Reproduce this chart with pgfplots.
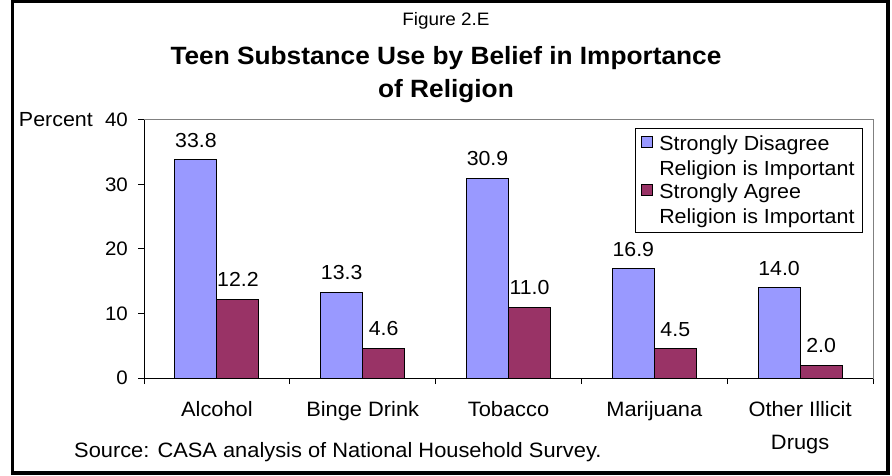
\documentclass[border=0pt]{standalone}
\usepackage{pgfplots}
\pgfplotsset{compat=1.18}
\usepackage{fontspec}
\setmainfont[FakeStretch=1.05]{Liberation Sans}
\definecolor{barblue}{HTML}{9999FF}
\definecolor{barmaroon}{HTML}{993366}
\definecolor{plotgrey}{HTML}{808080}
\newcommand{\fs}[2]{\fontsize{#1bp}{#2bp}\selectfont}
\begin{document}
\begin{tikzpicture}
\begin{axis}[
  at={(0,0)}, anchor=south west,
  scale only axis, width=729bp, height=258bp,
  ybar=0pt, bar width=42bp,
  xmin=-0.5, xmax=4.5, ymin=0, ymax=40,
  ytick={0,10,20,30,40},
  xtick={0,1,2,3,4},
  xticklabels={Alcohol,Binge Drink,Tobacco,Marijuana,{Other Illicit\\Drugs}},
  minor xtick={-0.5,0.5,1.5,2.5,3.5,4.5},
  major x tick style={draw=none},
  tick align=outside, major tick length=6bp, minor tick length=6bp,
  xtick pos=bottom, ytick pos=left,
  tick style={black, line width=1bp},
  axis line style={plotgrey, line width=1bp},
  /pgf/number format/assume math mode=true,
  ticklabel style={font=\fs{19.5}{24}},
  yticklabel style={inner sep=0pt, xshift=-10bp},
  xticklabel style={inner sep=0pt, yshift=-17bp, align=center, font=\fs{20.8}{33}},
  nodes near coords={\pgfmathprintnumber[fixed,fixed zerofill,precision=1]{\pgfplotspointmeta}},
  every node near coord/.append style={font=\fs{20.3}{24}, inner sep=0pt, yshift=12bp, black},
  legend style={at={(rel axis cs:1,1)}, xshift=-10bp, yshift=-8bp, anchor=north east,
    draw=black, line width=1bp, font=\fs{20.4}{25.5},
    cells={align=left, anchor=west, inner sep=0pt}, row sep=2bp,
    inner xsep=6bp, inner ysep=5bp, column sep=4bp},
  legend image code/.code={\draw[#1, draw=black, line width=1bp] (0bp,9bp) rectangle (11bp,20bp);},
]
\addplot[fill=barblue, draw=black, line width=1bp] coordinates {(0,33.8) (1,13.3) (2,30.9) (3,16.9) (4,14.0)};
\addlegendentry{Strongly Disagree\\Religion is Important}
\addplot[fill=barmaroon, draw=black, line width=1bp] coordinates {(0,12.2) (1,4.6) (2,11.0) (3,4.5) (4,2.0)};
\addlegendentry{Strongly Agree\\Religion is Important}
\draw[black, line width=1bp] (rel axis cs:0,1) -- (rel axis cs:0,0) -- (rel axis cs:1,0);
\end{axis}
\begin{scope}[shift={(-144bp,378bp)}, x=1bp, y=-1bp]
\draw[line width=3.5bp] (12.5,1.75) rectangle (888,473.25);
\node[anchor=base, inner sep=0pt, font=\fs{18}{22}] at (446,26) {Figure 2.E};
\node[anchor=base, inner sep=0pt, font=\fs{25}{30}\bfseries] at (446,65) {Teen Substance Use by Belief in Importance};
\node[anchor=base, inner sep=0pt, font=\fs{25}{30}\bfseries] at (446,98) {of Religion};
\node[anchor=east, inner sep=0pt, font=\fs{20.4}{24}] at (93,120) {Percent};
\node[anchor=base west, inner sep=0pt, font=\fs{20.8}{24}] at (74,457.7) {Source: CASA analysis of National Household Survey.};
\path[use as bounding box] (0,0) rectangle (892,476);
\end{scope}
\end{tikzpicture}
\end{document}
